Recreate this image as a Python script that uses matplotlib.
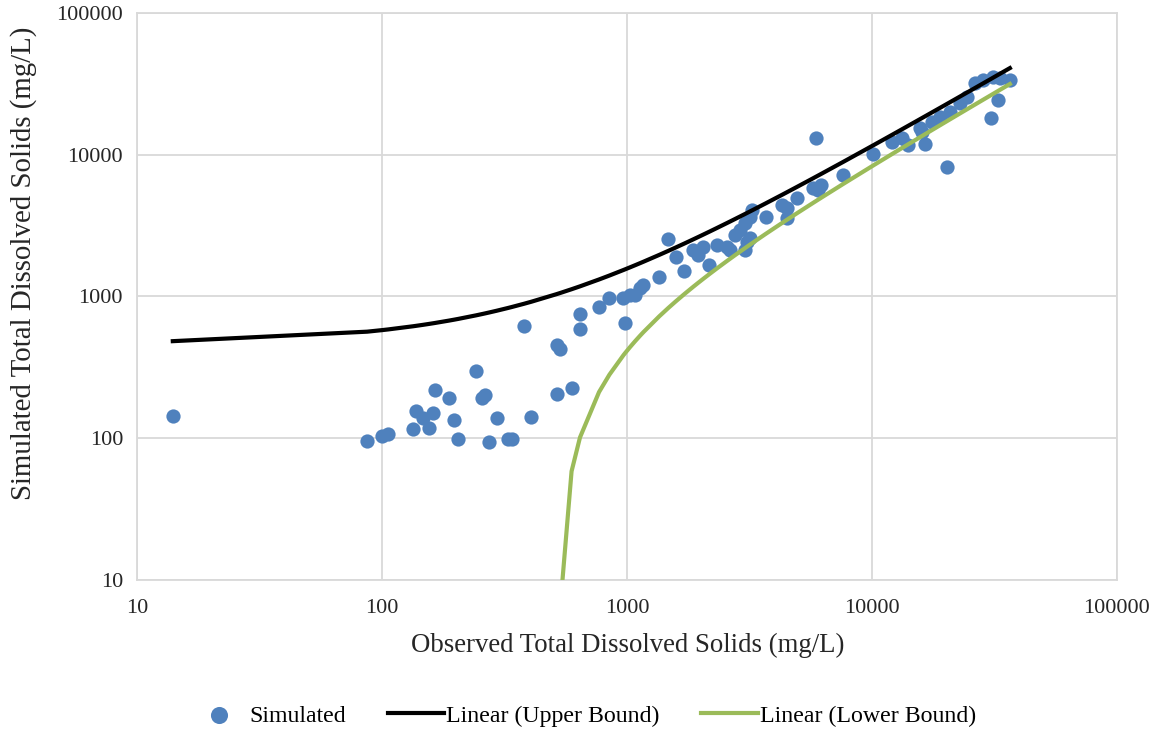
import numpy as np
import matplotlib.pyplot as plt

# observed / simulated TDS (mg/L)
observed = [14, 87, 100, 106, 134, 138, 147, 155, 162, 164, 187, 197, 205, 242,
            257, 263, 273, 294, 326, 338, 380, 407, 516, 535, 516, 594, 643, 643,
            769, 848, 967, 981, 1028, 1079, 1130, 1167, 1355, 1476, 1581, 1715,
            1867, 1956, 2047, 2163, 2324, 2551, 2632, 2761, 2892, 3033, 3177,
            3228, 3033, 3100, 3180, 3680, 4276, 4482, 4482, 4921, 5755, 5890,
            6040, 6222, 7640, 10120, 12020, 13210, 14060, 15710, 15960, 16450,
            17540, 18970, 20280, 20810, 22870, 24360, 26330, 28450, 30500,
            31260, 32780, 33280, 36550]
simulated = [143, 96, 103, 107, 116, 156, 138, 119, 150, 219, 193, 134, 98, 298,
             191, 202, 94, 138, 98, 98, 618, 142, 454, 426, 204, 227, 748, 589,
             838, 970, 970, 646, 1023, 1023, 1140, 1203, 1377, 2529, 1887, 1518,
             2124, 1958, 2240, 1663, 2300, 2240, 2140, 2711, 2940, 3294, 3650,
             4065, 2140, 2431, 2571, 3611, 4415, 4178, 3555, 4925, 5785, 13150,
             5620, 6105, 7180, 10100, 12330, 13030, 11700, 15350, 14520, 11830,
             17070, 18540, 8226, 20120, 23040, 25650, 31850, 33650, 18030,
             35500, 24530, 34700, 33650]

# linear bounds (slope, intercept), drawn through the observed x values
upper_slope, upper_intercept = 1.1056, 468.5
lower_slope, lower_intercept = 0.8761, -462.0

blue = "#4F81BD"
green = "#9BBB59"
grid_col = "#D9D9D9"
text_col = "#262626"

plt.rcParams["font.family"] = ["Liberation Serif", "DejaVu Serif"]

fig = plt.figure(figsize=(11.6, 7.32), dpi=100)
ax = fig.add_axes([0.1181, 0.2077, 0.8448, 0.7745])

ax.scatter(observed, simulated, s=105, color=blue, zorder=3, label="Simulated",
           linewidths=0)

xs = np.sort(np.array(observed, dtype=float))
ax.plot(xs, upper_slope * xs + upper_intercept, color="black", lw=3,
        zorder=4, label="Linear (Upper Bound)")
low = lower_slope * xs + lower_intercept
low = np.where(low > 0, low, np.nan)
ax.plot(xs, low, color=green, lw=3, zorder=4, label="Linear (Lower Bound)")

ax.set_xscale("log")
ax.set_yscale("log")
ax.set_xlim(10, 100000)
ax.set_ylim(10, 100000)
ticks = [10, 100, 1000, 10000, 100000]
ax.set_xticks(ticks)
ax.set_yticks(ticks)
ax.set_xticklabels([str(t) for t in ticks])
ax.set_yticklabels([str(t) for t in ticks])
ax.minorticks_off()
ax.tick_params(length=0, labelsize=16, colors=text_col, pad=14)
ax.tick_params(axis="y", pad=10)
ax.grid(True, color=grid_col, lw=1.3)
for sp in ax.spines.values():
    sp.set_color(grid_col)
    sp.set_linewidth(1.3)

fig.text(628 / 1160, 1 - 645 / 732, "Observed Total Dissolved Solids (mg/L)",
         fontsize=19.3, color=text_col, ha="center", va="center")
fig.text(24 / 1160, 1 - 263 / 732, "Simulated Total Dissolved Solids (mg/L)",
         fontsize=20.8, color=text_col, ha="center", va="center", rotation=90)

fig.legend(loc="center", bbox_to_anchor=(0.503, 0.022), ncol=3, frameon=False,
           fontsize=17.2, handlelength=2.35, handletextpad=0.1,
           columnspacing=1.75, markerscale=1.2)

fig.savefig("out.png", dpi=100)
